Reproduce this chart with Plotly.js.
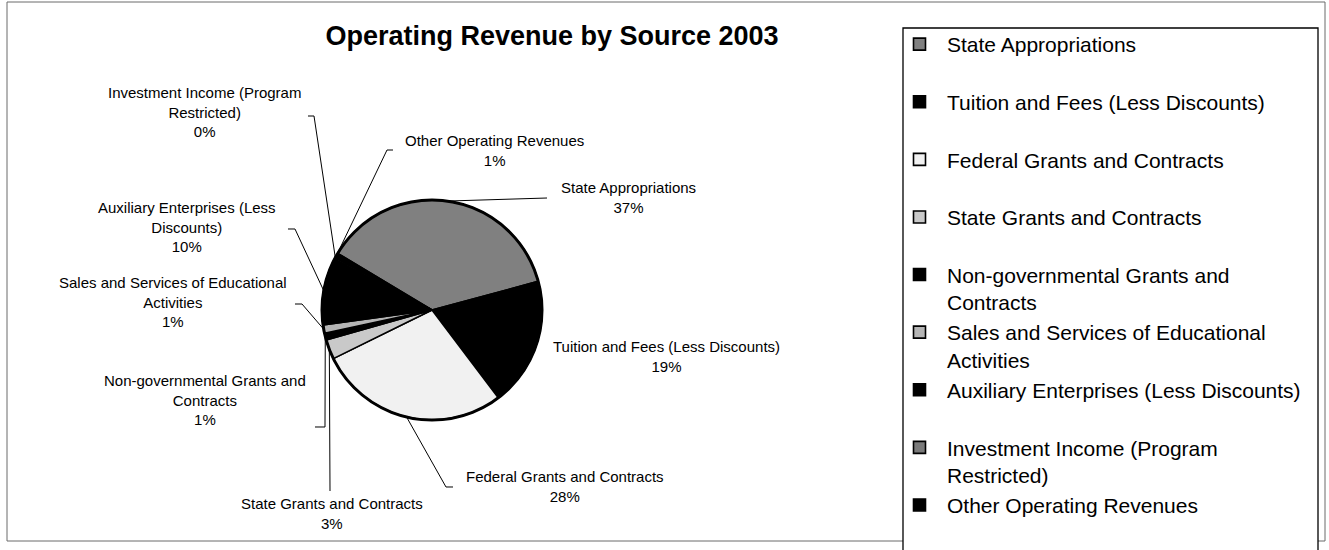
<!DOCTYPE html>
<html>
<head>
<meta charset="utf-8">
<script src="https://cdn.plot.ly/plotly-3.0.1.min.js"></script>
<style>
html,body{margin:0;padding:0;background:#ffffff;}
#chart{width:1329px;height:550px;}
</style>
</head>
<body>
<div id="chart"></div>
<script>
// ---- data ----
const categories = [
  "State Appropriations",
  "Tuition and Fees (Less Discounts)",
  "Federal Grants and Contracts",
  "State Grants and Contracts",
  "Non-governmental Grants and Contracts",
  "Sales and Services of Educational Activities",
  "Auxiliary Enterprises (Less Discounts)",
  "Investment Income (Program Restricted)",
  "Other Operating Revenues"
];
// share of operating revenue, percent
const shares = [37.2, 18.9, 28.0, 2.9, 1.0, 1.2, 10.0, 0.2, 0.6];

// legend text (wrapped as in the reference legend)
const legendText = [
  "State Appropriations",
  "Tuition and Fees (Less Discounts)",
  "Federal Grants and Contracts",
  "State Grants and Contracts",
  "Non-governmental Grants and<br>Contracts",
  "Sales and Services of Educational<br>Activities",
  "Auxiliary Enterprises (Less Discounts)",
  "Investment Income (Program<br>Restricted)",
  "Other Operating Revenues"
];
// data-label text (wrapped as in the reference labels)
const labelText = [
  "State Appropriations",
  "Tuition and Fees (Less Discounts)",
  "Federal Grants and Contracts",
  "State Grants and Contracts",
  "Non-governmental Grants and<br>Contracts",
  "Sales and Services of Educational<br>Activities",
  "Auxiliary Enterprises (Less<br>Discounts)",
  "Investment Income (Program<br>Restricted)",
  "Other Operating Revenues"
];
const chartTitle = "Operating Revenue by Source 2003";

// ---- styling / layout ----
const W = 1329, H = 550;
const FONT = "Liberation Sans, Arial, Helvetica, sans-serif";
const sliceColors = ["#808080", "#000000", "#f1f1f1", "#c9c9c9", "#000000",
                     "#b5b5b5", "#000000", "#7a7a7a", "#000000"];
const pieCx = 432, pieCy = 310, pieR = 110;   // pixel geometry of the pie
const rotationDeg = -59;                       // first slice starts here (clockwise from 12 o'clock)

// label placement (pixel centres) and leader-line anchors, in slice order
const labelPos = [[628,197.5],[666,356.5],[565,486],[332,513],[205,399.5],[173,301.5],[187,226.5],[204,111.5],[494,150]];
const leaderAnchors = [
  [[547,198]],
  null,
  [[453,487],[446,487]],
  [[330,491]],
  [[315,427],[325,427]],
  [[295,304],[302,304]],
  [[288,229],[295,229]],
  [[308,116],[314,116]],
  [[393,150],[387,150]]
];

const px = x => x / W;
const py = y => 1 - y / H;

const total = shares.reduce((a, b) => a + b, 0);
const legendLabels = legendText.map(t => t.indexOf("<br>") >= 0 ? t : t + "<br>\u00a0");

// slice mid angles from the data
const midAngles = [];
let cum = 0;
shares.forEach(v => {
  midAngles.push(rotationDeg + (cum + v / 2) / total * 360);
  cum += v;
});

const annotations = labelText.map((t, i) => ({
  text: t + "<br>" + Math.round(shares[i] / total * 100) + "%",
  x: px(labelPos[i][0]), y: py(labelPos[i][1]),
  xref: "paper", yref: "paper",
  xanchor: "center", yanchor: "middle", align: "center",
  showarrow: false,
  font: {family: FONT, size: 15, color: "#000"}
}));

const shapes = [
  {type: "rect", xref: "paper", yref: "paper", layer: "below",
   x0: px(7), x1: px(1325), y0: py(541), y1: py(2),
   line: {color: "#6a6a6a", width: 1}, fillcolor: "rgba(0,0,0,0)"},
  {type: "rect", xref: "paper", yref: "paper", layer: "below",
   x0: px(903), x1: px(1318), y0: py(562), y1: py(28),
   line: {color: "#000", width: 1.3}, fillcolor: "#ffffff"},
  // heavier outline ring around the pie (same geometry as the pie domain)
  {type: "circle", xref: "paper", yref: "paper", layer: "above",
   x0: px(pieCx - pieR), x1: px(pieCx + pieR), y0: py(pieCy + pieR), y1: py(pieCy - pieR),
   line: {color: "#000", width: 3}, fillcolor: "rgba(0,0,0,0)"}
];
leaderAnchors.forEach((pts, i) => {
  if (!pts) return;
  const a = midAngles[i] * Math.PI / 180;
  const ex = pieCx + pieR * Math.sin(a), ey = pieCy - pieR * Math.cos(a);
  const all = pts.concat([[ex, ey]]);
  const d = all.map((p, k) => (k ? "L" : "M") + px(p[0]).toFixed(5) + "," + py(p[1]).toFixed(5)).join(" ");
  shapes.push({type: "path", xref: "paper", yref: "paper", path: d, layer: "above",
               line: {color: "#000", width: 1}});
});

const trace = {
  type: "pie",
  labels: legendLabels,
  values: shares,
  sort: false,
  direction: "clockwise",
  rotation: rotationDeg,
  textinfo: "none",
  hoverinfo: "skip",
  marker: {colors: sliceColors, line: {color: "#000", width: 1.6}},
  domain: {x: [px(pieCx - pieR), px(pieCx + pieR)], y: [py(pieCy + pieR), py(pieCy - pieR)]}
};

const layout = {
  width: W, height: H,
  margin: {l: 0, r: 0, t: 0, b: 0, pad: 0, autoexpand: false},
  paper_bgcolor: "#ffffff",
  plot_bgcolor: "#ffffff",
  showlegend: true,
  title: {
    text: chartTitle,
    x: px(552), xref: "paper", xanchor: "center",
    y: py(36), yref: "paper", yanchor: "middle",
    font: {family: FONT, size: 27, weight: "bold", color: "#000"}
  },
  legend: {
    x: px(892), xanchor: "left",
    y: py(24), yanchor: "top",
    font: {family: FONT, size: 21, color: "#000"},
    valign: "top",
    itemwidth: 45,
    bgcolor: "rgba(0,0,0,0)",
    borderwidth: 0,
    traceorder: "normal",
    itemclick: false, itemdoubleclick: false
  },
  annotations: annotations,
  shapes: shapes
};

Plotly.newPlot("chart", [trace], layout, {displayModeBar: false, staticPlot: true});
</script>
</body>
</html>
